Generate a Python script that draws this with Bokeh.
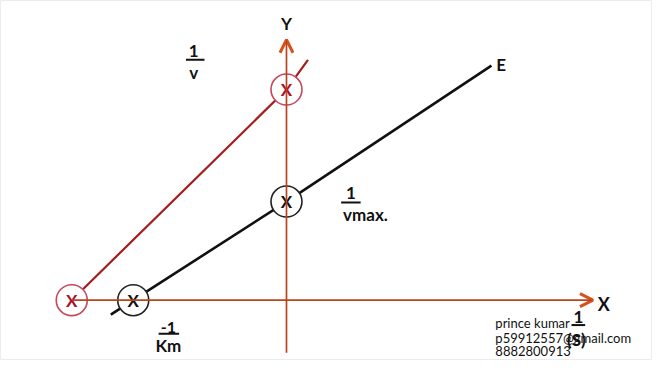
from bokeh.plotting import figure
from bokeh.models import Arrow, OpenHead, ColumnDataSource, Range1d
from bokeh.embed import file_html
from bokeh.resources import INLINE
from bokeh.core.properties import value

# Lineweaver-Burk plot (arbitrary units): 1/v against 1/[S]
enzyme_x = [-1.80, -1.57, 0.0, 2.10]
enzyme_y = [-0.15, 0.0, 1.03, 2.45]
inhib_x = [-2.31, -2.20, 0.0, 0.22]
inhib_y = [-0.11, 0.0, 2.20, 2.51]

# intercept markers
mark_x = [-2.20, -1.57, 0.0, 0.0]
mark_y = [0.0, 0.0, 2.20, 1.03]
mark_line = ["#c8475c", "#222222", "#c8475c", "#222222"]
mark_text = ["#a8102a", "#111111", "#a8102a", "#111111"]

# axes extents
x_axis = [-2.20, 3.14]
y_axis = [-0.55, 2.72]

FONT = value("Lato")

p = figure(width=652, height=360, output_backend="svg", toolbar_location=None,
           x_range=Range1d(-2.93, 3.75), y_range=Range1d(-0.63, 3.13),
           min_border=0, x_axis_type=None, y_axis_type=None)
p.grid.visible = False
p.outline_line_color = "#ececec"
p.background_fill_color = "white"

axis_col = "#b8441e"
head_col = "#d8501a"

# axes with arrowheads
p.add_layout(Arrow(x_start=x_axis[0], y_start=0, x_end=x_axis[1], y_end=0,
                   line_color=axis_col, line_width=1.7,
                   end=OpenHead(size=13, line_color=head_col, line_width=3)))
p.add_layout(Arrow(x_start=0, y_start=y_axis[0], x_end=0, y_end=y_axis[1],
                   line_color=axis_col, line_width=1.7,
                   end=OpenHead(size=13, line_color=head_col, line_width=3)))

# lines
p.line(inhib_x, inhib_y, line_color="#a51d1d", line_width=2.2)
p.line(enzyme_x, enzyme_y, line_color="#111111", line_width=2.6)

# intercept circles with X
src = ColumnDataSource(dict(x=mark_x, y=mark_y, lc=mark_line, tc=mark_text,
                            t=["X"] * len(mark_x)))
p.scatter("x", "y", source=src, size=31, fill_color="white",
          line_color="lc", line_width=1.6)
p.text("x", "y", text="t", source=src, text_color="tc", text_font=FONT,
       text_font_size="17px", text_font_style="bold",
       text_align="center", text_baseline="middle")

def lab(x, y, s, size="16px", style="bold", align="center"):
    p.text([x], [y], text=[s], text_font=FONT, text_font_size=size,
           text_font_style=style, text_color="#111111",
           text_align=align, text_baseline="middle")

def bar(x0, x1, y):
    p.segment([x0], [y], [x1], [y], line_color="#111111", line_width=2)

# axis letters
lab(0.0, 2.89, "Y", "17px")
lab(3.25, -0.04, "X", "18px")
lab(2.20, 2.46, "E", "17px")

# 1/v
lab(-0.95, 2.60, "1", "17px")
bar(-1.03, -0.84, 2.51)
lab(-0.95, 2.38, "v", "17px")

# 1/vmax
lab(0.66, 1.12, "1", "17px")
bar(0.56, 0.76, 1.02)
lab(0.58, 0.90, "vmax.", "17px", align="left")

# -1/Km
lab(-1.21, -0.29, "-1")
bar(-1.31, -1.10, -0.35)
lab(-1.21, -0.47, "Km", "17px")

# watermark
lab(2.14, -0.24, "prince kumar", "13px", "normal", "left")
lab(2.14, -0.39, "p59912557@gmail.com", "13px", "normal", "left")
lab(2.14, -0.53, "8882800913", "13px", "normal", "left")

# 1/(S)
lab(2.99, -0.18, "1", "17px")
bar(2.92, 3.06, -0.26)
lab(2.97, -0.41, "(S)", "17px")

open("out.html", "w").write(file_html(p, INLINE))
